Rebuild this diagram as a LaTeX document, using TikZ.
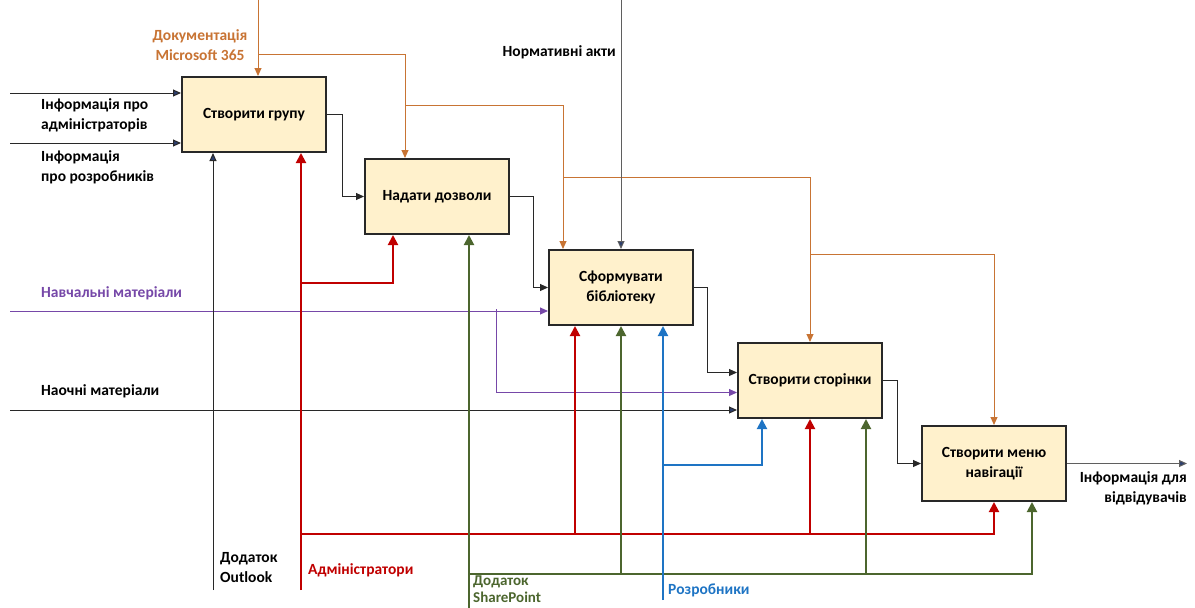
\documentclass[tikz,border=0pt]{standalone}
\usepackage{fontspec}
\setmainfont{Carlito}
\usepackage{tikz}
\usetikzlibrary{arrows.meta,positioning}
\definecolor{idfbox}{RGB}{255,241,204}
\definecolor{idfline}{RGB}{40,40,40}
\definecolor{idfnavy}{RGB}{44,62,110}
\definecolor{idforange}{RGB}{200,116,52}
\definecolor{idfred}{RGB}{192,0,0}
\definecolor{idfgreen}{RGB}{76,102,46}
\definecolor{idfblue}{RGB}{30,116,196}
\definecolor{idfpurple}{RGB}{118,72,168}
\definecolor{idfgrey}{RGB}{95,95,95}
\tikzstyle{activity} = [rectangle, minimum width=144.4pt, minimum height=75.4pt, align=center, draw=idfline, fill=idfbox, line width=1.6pt, font=\bfseries\fontsize{15.5}{19.5}\selectfont]
\tikzstyle{lbl} = [inner sep=0pt, font=\bfseries\fontsize{15.5}{20}\selectfont]
\tikzstyle{flow} = [line width=1pt, color=idfline, -{Triangle[length=8pt,width=7pt]}]
\tikzstyle{inarrow} = [line width=1pt, color=idfline, -{Triangle[length=8pt,width=7pt,fill=idfnavy]}]
\tikzstyle{ctrl} = [line width=1pt, color=idforange, -{Triangle[length=8pt,width=7pt]}]
\tikzstyle{admin} = [line width=2pt, color=idfred, -{Triangle[length=10pt,width=10pt]}]
\tikzstyle{sharepoint} = [line width=2pt, color=idfgreen, -{Triangle[length=10pt,width=10pt]}]
\tikzstyle{developer} = [line width=2pt, color=idfblue, -{Triangle[length=10pt,width=10pt]}]
\tikzstyle{material} = [line width=1pt, color=idfpurple, -{Triangle[length=8pt,width=7pt]}]

\begin{document}
\begin{tikzpicture}[x=1pt, y=-1pt]
\useasboundingbox (0,0) rectangle (1195,608);

% Functional blocks
\node (box1) [activity] at (254,114.5) {Створити групу};
\node (box2) [activity, below right=5pt and 37pt of box1] {Надати дозволи};
\node (box3) [activity, below right=14pt and 38pt of box2] {Сформувати\\бібліотеку};
\node (box4) [activity, below right=16pt and 43pt of box3] {Створити сторінки};
\node (box5) [activity, below right=6pt and 38pt of box4] {Створити меню\\навігації};

% Free ends
\coordinate (inAdm) at (10,93);
\coordinate (inDev) at (10,143);
\coordinate (inEdu) at (10,311);
\coordinate (inVis) at (10,410);
\coordinate (outVis) at (1187,461);
\coordinate (ctlDoc) at (258,0);
\coordinate (ctlNorm) at (621,0);
\coordinate (mOut) at (213,590);
\coordinate (mAdm) at (301,590);
\coordinate (mSP) at (469,608);
\coordinate (mDev) at (663,600);

% Branch points
\coordinate (d1) at (258,54);
\coordinate (d2) at (405,105);
\coordinate (d3) at (563,177);
\coordinate (d4) at (810,254);
\coordinate (a1) at (301,283);
\coordinate (a2) at (301,534);
\coordinate (a3) at (575,534);
\coordinate (a4) at (810,534);
\coordinate (s1) at (469,574);
\coordinate (s2) at (621,574);
\coordinate (s3) at (866,574);
\coordinate (r1) at (663,465);
\coordinate (e1) at (496,309);

% Inputs
\draw[inarrow] (inAdm) -- (inAdm -| box1.west);
\draw[inarrow] (inDev) -- (inDev -| box1.west);
\draw[material] (inEdu) -- (inEdu -| box3.west);
\draw[material] (e1) |- ([yshift=-12pt]box4.west);
\draw[inarrow] (inVis) -- (inVis -| box4.west);

% Flow between blocks
\draw[flow] (box1.east) -- ++(15,0) |- (box2.west);
\draw[flow] (box2.east) -- ++(23,0) |- (box3.west);
\draw[flow] (box3.east) -- ++(13,0) |- ([yshift=8pt]box4.west);
\draw[flow] (box4.east) -- ++(14,0) |- (box5.west);
\draw[inarrow, color=idfgrey] (box5.east) -- (box5.east -| outVis);

% Controls
\draw[ctrl] (ctlDoc) -- (ctlDoc |- box1.north);
\draw[ctrl] (d1) -| ([xshift=41pt]box2.north west);
\draw[ctrl] (d2) -| ([xshift=15pt]box3.north west);
\draw[ctrl] (d3) -| (box4.north);
\draw[ctrl] (d4) -| (box5.north);
\draw[inarrow, color=idfgrey] (ctlNorm) -- (ctlNorm |- box3.north);

% Mechanisms
\draw[inarrow] (mOut) -- (mOut |- box1.south);
\draw[admin] (mAdm) -- (mAdm |- box1.south);
\draw[admin] (a1) -| ([xshift=29pt]box2.south west);
\draw[admin] (a2) -| (box5.south);
\draw[admin] (a3) -- (a3 |- box3.south);
\draw[admin] (a4) -- (a4 |- box4.south);
\draw[sharepoint] (mSP) -- (mSP |- box2.south);
\draw[sharepoint] (s1) -| ([xshift=111pt]box5.south west);
\draw[sharepoint] (s2) -- (s2 |- box3.south);
\draw[sharepoint] (s3) -- (s3 |- box4.south);
\draw[developer] (mDev) -- (mDev |- box3.south);
\draw[developer] (r1) -| ([xshift=25pt]box4.south west);

% Labels
\node (lblDoc) [lbl, color=idforange, align=center] at (200,45) {Документація\\Microsoft 365};
\node (lblNorm) [lbl, anchor=east] at (616,52) {Нормативні акти};
\node (lblAdm) [lbl, anchor=west, align=left] at (41,115) {Інформація про\\адміністраторів};
\node (lblDev) [lbl, anchor=west, align=left] at (41,167) {Інформація\\про розробників};
\node (lblEdu) [lbl, anchor=west, color=idfpurple] at (41,293) {Навчальні матеріали};
\node (lblVis) [lbl, anchor=west] at (41,391) {Наочні матеріали};
\node (lblOut) [lbl, anchor=west, align=left] at (220,568) {Додаток\\Outlook};
\node (lblAdmin) [lbl, anchor=west, color=idfred] at (308,570) {Адміністратори};
\node (lblSP) [lbl, anchor=west, align=left, color=idfgreen, font=\bfseries\fontsize{15}{17}\selectfont] at (473,589) {Додаток\\SharePoint};
\node (lblDevs) [lbl, anchor=west, color=idfblue] at (668,590) {Розробники};
\node (lblVisOut) [lbl, anchor=east, align=right] at (1187,488) {Інформація для\\відвідувачів};
\end{tikzpicture}
\end{document}
